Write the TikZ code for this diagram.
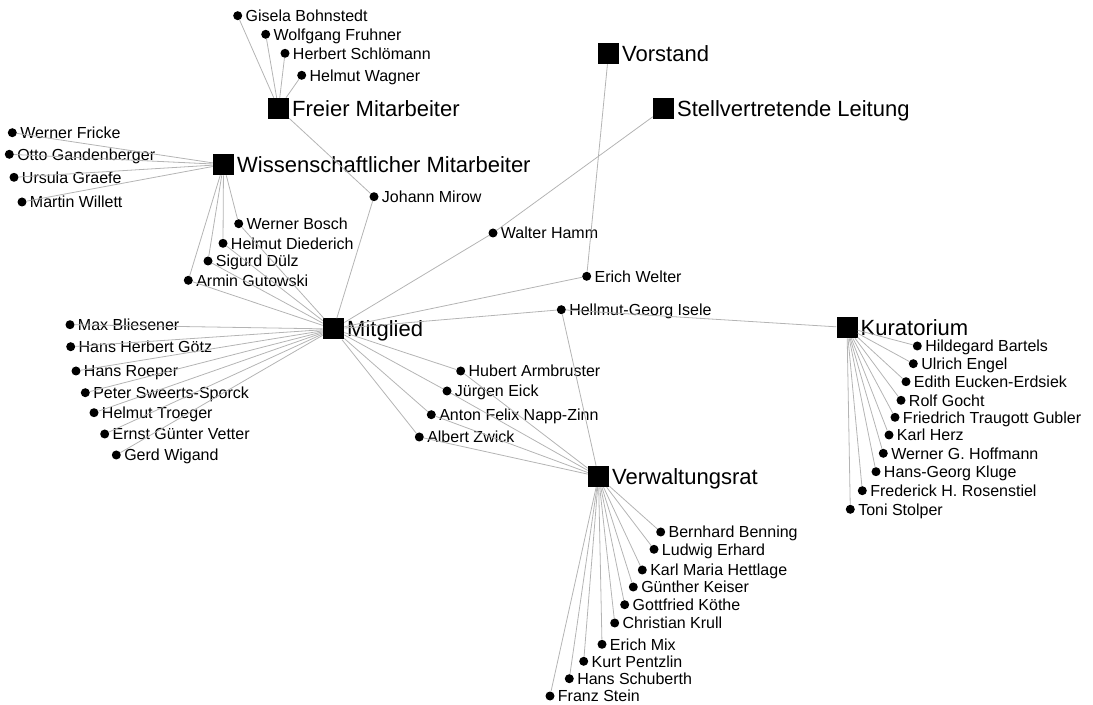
\documentclass[tikz,border=0pt]{standalone}
\usepackage{fontspec}
\setmainfont{Liberation Sans}
\definecolor{linkgray}{HTML}{B4B4B4}
\begin{document}
\begin{tikzpicture}
    [
        x=0.75pt, y=-0.75pt,
        group/.style={rectangle, fill=black, minimum size=15.75pt, inner sep=0pt,
            label={[grouplabel]right:#1},},
        member/.style={circle, fill=black, minimum size=6.75pt, inner sep=0pt,
            label={[memberlabel]right:#1},},
        grouplabel/.style={font=\fontsize{16.5}{18}\selectfont, inner sep=0pt,
            label distance=2pt, text height=11.8pt, text depth=0pt,},
        memberlabel/.style={font=\fontsize{12}{14}\selectfont, inner sep=0pt,
            label distance=2.2pt, text height=8.6pt, text depth=0pt,},
        every edge/.style={draw=linkgray, line width=0.6pt,},
    ]
    \useasboundingbox (0,0) rectangle (1093,705);

    % groups
    \node (1) at (278.5,108.5) [group={Freier Mitarbeiter}] {};
    \node (2) at (223.5,164.5) [group={Wissenschaftlicher Mitarbeiter}] {};
    \node (3) at (608.5,53.5)  [group={Vorstand}] {};
    \node (4) at (663.5,109)   [group={Stellvertretende Leitung}] {};
    \node (5) at (333.5,329)   [group={Mitglied}] {};
    \node (6) at (847,327.5)   [group={Kuratorium}] {};
    \node (7) at (598.5,476.5) [group={Verwaltungsrat}] {};

    % freie und wissenschaftliche Mitarbeiter
    \node (8)  at (237.7,15.7)  [member={Gisela Bohnstedt}] {};
    \node (9)  at (265.7,34.3)  [member={Wolfgang Fruhner}] {};
    \node (10) at (285,53.3)    [member={Herbert Schlömann}] {};
    \node (11) at (301.7,75.3)  [member={Helmut Wagner}] {};
    \node (12) at (374,196.7)   [member={Johann Mirow}] {};
    \node (13) at (12.3,132.7)  [member={Werner Fricke}] {};
    \node (14) at (9.3,154.3)   [member={Otto Gandenberger}] {};
    \node (15) at (14,177.3)    [member={Ursula Graefe}] {};
    \node (16) at (22,202)      [member={Martin Willett}] {};
    \node (17) at (238.7,223.7) [member={Werner Bosch}] {};
    \node (18) at (223,243.3)   [member={Helmut Diederich}] {};
    \node (19) at (208,261)     [member={Sigurd Dülz}] {};
    \node (20) at (188.3,280.3) [member={Armin Gutowski}] {};

    % Mitglieder
    \node (21) at (70,324.7)    [member={Max Bliesener}] {};
    \node (22) at (70.7,346.7)  [member={Hans Herbert Götz}] {};
    \node (23) at (76,371)      [member={Hans Roeper}] {};
    \node (24) at (85.3,392.7)  [member={Peter Sweerts-Sporck}] {};
    \node (25) at (94,412.7)    [member={Helmut Troeger}] {};
    \node (26) at (104.7,434)   [member={Ernst Günter Vetter}] {};
    \node (27) at (116.3,455)   [member={Gerd Wigand}] {};
    \node (28) at (493,233)     [member={Walter Hamm}] {};
    \node (29) at (586.7,276.3) [member={Erich Welter}] {};
    \node (30) at (561.3,309.7) [member={Hellmut-Georg Isele}] {};
    \node (31) at (460.7,371)   [member={Hubert Armbruster}] {};
    \node (32) at (447,391)     [member={Jürgen Eick}] {};
    \node (33) at (431.3,414.7) [member={Anton Felix Napp-Zinn}] {};
    \node (34) at (419.3,437)   [member={Albert Zwick}] {};

    % Verwaltungsrat
    \node (35) at (660.7,532)   [member={Bernhard Benning}] {};
    \node (36) at (654,549.3)   [member={Ludwig Erhard}] {};
    \node (37) at (642.3,570)   [member={Karl Maria Hettlage}] {};
    \node (38) at (633.3,587)   [member={Günther Keiser}] {};
    \node (39) at (624.7,604.7) [member={Gottfried Köthe}] {};
    \node (40) at (614.7,623)   [member={Christian Krull}] {};
    \node (41) at (602,644.3)   [member={Erich Mix}] {};
    \node (42) at (583.7,661.3) [member={Kurt Pentzlin}] {};
    \node (43) at (569.3,678.7) [member={Hans Schuberth}] {};
    \node (44) at (550,696)     [member={Franz Stein}] {};

    % Kuratorium
    \node (45) at (917.3,346)   [member={Hildegard Bartels}] {};
    \node (46) at (913.3,363.7) [member={Ulrich Engel}] {};
    \node (47) at (906,381.7)   [member={Edith Eucken-Erdsiek}] {};
    \node (48) at (901,400.3)   [member={Rolf Gocht}] {};
    \node (49) at (895,417.3)   [member={Friedrich Traugott Gubler}] {};
    \node (50) at (889,435)     [member={Karl Herz}] {};
    \node (51) at (883.3,453.3) [member={Werner G. Hoffmann}] {};
    \node (52) at (876,471.7)   [member={Hans-Georg Kluge}] {};
    \node (53) at (862.3,490.7) [member={Frederick H. Rosenstiel}] {};
    \node (54) at (850.3,509.3) [member={Toni Stolper}] {};

    \path
    (1) edge (8) edge (9) edge (10) edge (11) edge (12)
    (2) edge (13) edge (14) edge (15) edge (16)
        edge (17) edge (18) edge (19) edge (20)
    (3) edge (29)
    (4) edge (28)
    (5) edge (12) edge (17) edge (18) edge (19) edge (20)
        edge (21) edge (22) edge (23) edge (24) edge (25) edge (26) edge (27)
        edge (28) edge (29) edge (30)
        edge (31) edge (32) edge (33) edge (34)
    (6) edge (30)
        edge (45) edge (46) edge (47) edge (48) edge (49)
        edge (50) edge (51) edge (52) edge (53) edge (54)
    (7) edge (30) edge (31) edge (32) edge (33) edge (34)
        edge (35) edge (36) edge (37) edge (38) edge (39)
        edge (40) edge (41) edge (42) edge (43) edge (44);

\end{tikzpicture}
\end{document}
